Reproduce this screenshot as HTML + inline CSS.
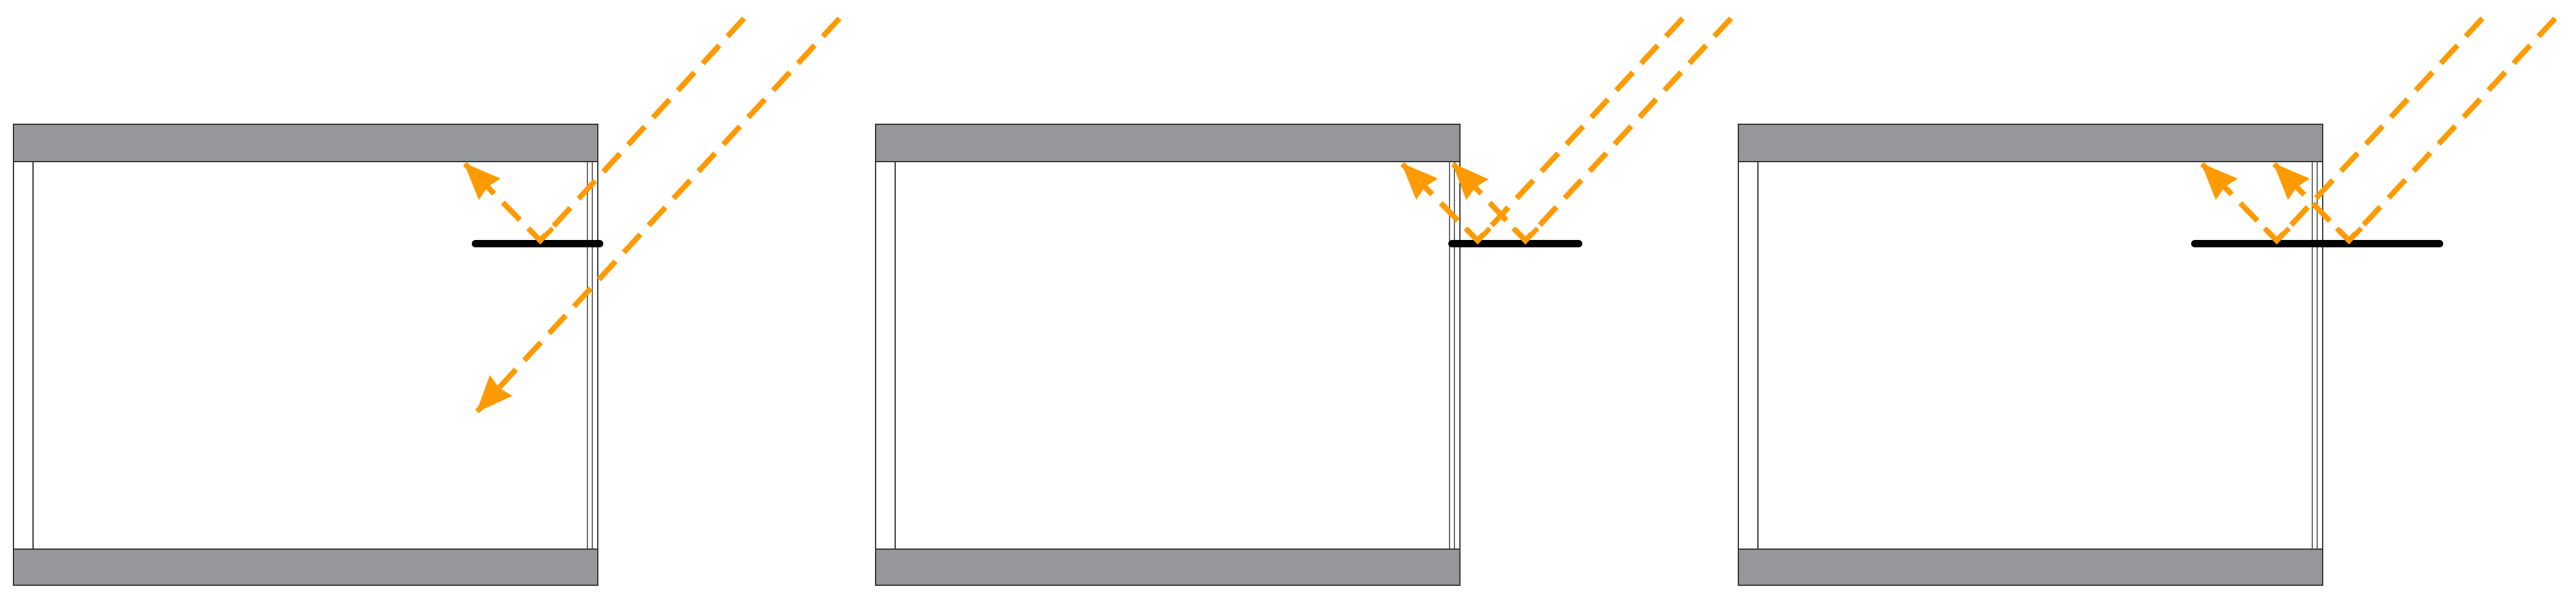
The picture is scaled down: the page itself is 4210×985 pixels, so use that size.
<!DOCTYPE html>
<html><head><meta charset="utf-8"><style>html,body{margin:0;padding:0;background:#fff}svg{display:block}</style></head>
<body>
<svg width="4210" height="985" viewBox="0 0 4210 985" xmlns="http://www.w3.org/2000/svg">
<defs>
<marker id="ah" markerUnits="userSpaceOnUse" markerWidth="60" markerHeight="60" viewBox="0 0 48 48" refX="46" refY="24" orient="auto">
<path d="M0,4 L48,24 L0,44 L4,24 Z" fill="#ff9a00"/>
</marker>
</defs>
<g id="p1">
<g stroke="#333" stroke-width="2" fill="none">
<line x1="22" y1="264" x2="22" y2="897"/>
<line x1="54" y1="264" x2="54" y2="897"/>
<line x1="960" y1="264" x2="960" y2="897" stroke-width="1.5"/>
<line x1="968" y1="264" x2="968" y2="897" stroke-width="1.5"/>
<line x1="977" y1="264" x2="977" y2="897"/>
</g>
<rect x="22" y="203" width="955" height="61" fill="#96979b" stroke="#333" stroke-width="2"/>
<rect x="22" y="897" width="955" height="59" fill="#96979b" stroke="#333" stroke-width="2"/>
</g>
<use href="#p1" x="1409"/>
<use href="#p1" x="2819"/>
<g stroke="#000" stroke-width="12" stroke-linecap="round">
<line x1="777" y1="398" x2="980" y2="398"/>
<line x1="2373" y1="398" x2="2580" y2="398"/>
<line x1="3587" y1="398" x2="3987" y2="398"/>
</g>
<g stroke="#ff9a00" stroke-width="9" fill="none" stroke-dasharray="40 20" stroke-linejoin="miter" marker-end="url(#ah)">
<polyline points="1216,30 883,393 760,268"/>
<polyline points="1372,30 780,672"/>
<polyline points="2750,30 2415,393 2292,268"/>
<polyline points="2829,30 2493,393 2375,268"/>
<polyline points="4057,30 3721,393 3599,268"/>
<polyline points="4176,30 3839,393 3717,268"/>
</g>
<g stroke="#ff9a00" stroke-width="8" fill="none">
<polyline points="863,373 883,393 903,373"/>
<polyline points="2395,373 2415,393 2435,373"/>
<polyline points="2473,373 2493,393 2513,373"/>
<polyline points="3701,373 3721,393 3741,373"/>
<polyline points="3819,373 3839,393 3859,373"/>
</g>
</svg>
</body></html>
